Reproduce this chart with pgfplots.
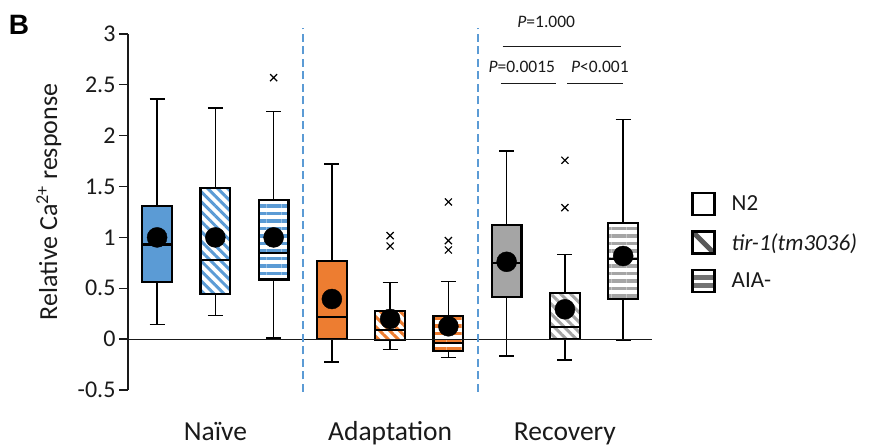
\documentclass[border=0pt]{standalone}
\usepackage{pgfplots}
\pgfplotsset{compat=1.18}
\usepgfplotslibrary{statistics}
\usetikzlibrary{patterns.meta}
\usepackage{fontspec}
\setmainfont{Carlito}
\newfontfamily\arialfont{Liberation Sans}

\definecolor{cblue}{HTML}{5B9BD5}
\definecolor{corange}{HTML}{ED7D31}
\definecolor{cgray}{HTML}{A5A5A5}
\definecolor{ctext}{HTML}{1A1A1A}

\pgfplotsset{
  boxbase/.style={black, line width=1.5bp, mark=x, mark size=5bp,
    mark options={solid, line width=1.2bp},
    boxplot/draw direction=y,
    boxplot/box extend=0.51, boxplot/whisker extend=0.26,
    boxplot/every median/.style={line width=2.2bp}},
  solidbox/.style={boxbase, boxplot/every box/.style={fill=#1, draw=black, line width=2.2bp}},
  diagbox/.style={boxbase, boxplot/every box/.style={draw=black, line width=2.2bp, fill=white,
    postaction={pattern={Lines[angle=-45,distance=7bp,line width=3bp]}, pattern color=#1},
    postaction={draw=black, line width=2.2bp}}},
  horzbox/.style={boxbase, boxplot/every box/.style={draw=black, line width=2.2bp, fill=white,
    postaction={pattern={Lines[angle=0,distance=7.5bp,line width=3.5bp]}, pattern color=#1},
    postaction={draw=black, line width=2.2bp}}},
}

\begin{document}
\begin{tikzpicture}
\begin{axis}[
  x=58.25bp, y=101.7bp,
  xmin=0.5, xmax=9.5, ymin=-0.5, ymax=3,
  axis y line*=left, axis x line=none,
  clip=false,
  ytick={-0.5,0,0.5,1,1.5,2,2.5,3},
  tick align=outside, major tick length=9bp,
  y axis line style={line width=1.3bp, ctext},
  ytick style={line width=1.3bp, ctext},
  yticklabel style={font=\fontsize{24bp}{26bp}\selectfont, text=ctext,
    /pgf/number format/assume math mode=true},
  ylabel={Relative Ca\textsuperscript{2+} response},
  ylabel style={font=\fontsize{26bp}{28bp}\selectfont, text=ctext,
    at={(axis description cs:-0.151,0.528)}, anchor=center},
  legend style={draw=none, fill=none, at={(axis cs:10.165,1.449)}, anchor=north west,
    font=\fontsize{23bp}{26bp}\selectfont, text=ctext, row sep=14bp, inner sep=0pt,
    /tikz/every odd column/.style={column sep=14bp}},
  legend cell align=left,
]
% legend images
\addlegendimage{legend image code/.code={
  \draw[line width=2.5bp, fill=white] (0bp,-11bp) rectangle (22bp,11bp);}}
\addlegendimage{legend image code/.code={
  \fill[white] (0bp,-11bp) rectangle (22bp,11bp);
  \begin{scope}\clip (0bp,-11bp) rectangle (22bp,11bp);
  \draw[line width=5bp, black!65] (0bp,11bp) -- (22bp,-11bp);\end{scope}
  \draw[line width=2.5bp] (0bp,-11bp) rectangle (22bp,11bp);}}
\addlegendimage{legend image code/.code={
  \fill[white] (0bp,-11bp) rectangle (22bp,11bp);
  \fill[black!55] (0bp,2bp) rectangle (22bp,6bp);
  \fill[black!55] (0bp,-6bp) rectangle (22bp,-2bp);
  \draw[line width=2.5bp] (0bp,-11bp) rectangle (22bp,11bp);}}
\legend{N2, \textit{tir-1(tm3036)}, AIA-}

% Naive
\addplot[solidbox=cblue, boxplot prepared={draw position=1,
  lower whisker=0.145, lower quartile=0.56, median=0.93,
  upper quartile=1.31, upper whisker=2.36}] coordinates {};
\addplot[diagbox=cblue, boxplot prepared={draw position=2,
  lower whisker=0.234, lower quartile=0.44, median=0.78,
  upper quartile=1.486, upper whisker=2.27}] coordinates {};
\addplot[horzbox=cblue, boxplot prepared={draw position=3,
  lower whisker=0.01, lower quartile=0.585, median=0.845,
  upper quartile=1.365, upper whisker=2.24}] coordinates {(3,2.57)};
% Adaptation
\addplot[solidbox=corange, boxplot prepared={draw position=4,
  lower whisker=-0.225, lower quartile=0.0, median=0.214,
  upper quartile=0.765, upper whisker=1.72}] coordinates {};
\addplot[diagbox=corange, boxplot prepared={draw position=5,
  lower whisker=-0.104, lower quartile=-0.01, median=0.087,
  upper quartile=0.273, upper whisker=0.555}] coordinates {(5,1.017) (5,0.915)};
\addplot[horzbox=corange, boxplot prepared={draw position=6,
  lower whisker=-0.183, lower quartile=-0.117, median=-0.035,
  upper quartile=0.224, upper whisker=0.568}] coordinates {(6,1.348) (6,0.968) (6,0.876)};
% Recovery
\addplot[solidbox=cgray, boxplot prepared={draw position=7,
  lower whisker=-0.166, lower quartile=0.411, median=0.745,
  upper quartile=1.119, upper whisker=1.85}] coordinates {};
\addplot[diagbox=cgray, boxplot prepared={draw position=8,
  lower whisker=-0.205, lower quartile=0.0, median=0.122,
  upper quartile=0.456, upper whisker=0.83}] coordinates {(8,1.758) (8,1.292)};
\addplot[horzbox=cgray, boxplot prepared={draw position=9,
  lower whisker=-0.01, lower quartile=0.394, median=0.785,
  upper quartile=1.139, upper whisker=2.157}] coordinates {};

% zero line and group separators
\addplot[ctext, line width=1bp] coordinates {(0.5,0) (9.5,0)};
\addplot[cblue, line width=2bp, dash pattern=on 8bp off 4.5bp] coordinates {(3.5,-0.52) (3.5,3.06)};
\addplot[cblue, line width=2bp, dash pattern=on 8bp off 4.5bp] coordinates {(6.5,-0.52) (6.5,3.06)};

% means
\addplot[only marks, mark=*, mark size=10bp, black] coordinates {
  (1,1.0) (2,1.0) (3,1.0) (4,0.394) (5,0.198) (6,0.126) (7,0.76) (8,0.293) (9,0.817)};

% significance
\draw[ctext, line width=1.2bp] (axis cs:6.93,2.875) -- (axis cs:8.97,2.875);
\draw[ctext, line width=1.2bp] (axis cs:6.9,2.515) -- (axis cs:7.85,2.515);
\draw[ctext, line width=1.2bp] (axis cs:8.04,2.515) -- (axis cs:9.0,2.515);
\node[font=\fontsize{17.5bp}{19bp}\selectfont, text=ctext] at (axis cs:7.68,3.12) {\textit{P}=1.000};
\node[font=\fontsize{17.5bp}{19bp}\selectfont, text=ctext] at (axis cs:7.26,2.675) {\textit{P}=0.0015};
\node[font=\fontsize{17.5bp}{19bp}\selectfont, text=ctext] at (axis cs:8.6,2.675) {\textit{P}<0.001};

% group names
\node[anchor=base, font=\fontsize{27.5bp}{30bp}\selectfont, text=ctext] at (axis cs:2,-1.0) {Naïve};
\node[anchor=base, font=\fontsize{27.5bp}{30bp}\selectfont, text=ctext] at (axis cs:5,-1.0) {Adaptation};
\node[anchor=base, font=\fontsize{27.5bp}{30bp}\selectfont, text=ctext] at (axis cs:8,-1.0) {Recovery};

% panel letter
\node[font=\arialfont\bfseries\fontsize{28bp}{30bp}\selectfont] at (axis cs:-1.371,3.088) {B};

\coordinate (bl) at (axis cs:-1.697,-1.051);
\coordinate (tr) at (axis cs:13.22,3.334);
\end{axis}
\pgfresetboundingbox
\path[use as bounding box] (bl) rectangle (tr);
\end{tikzpicture}
\end{document}
